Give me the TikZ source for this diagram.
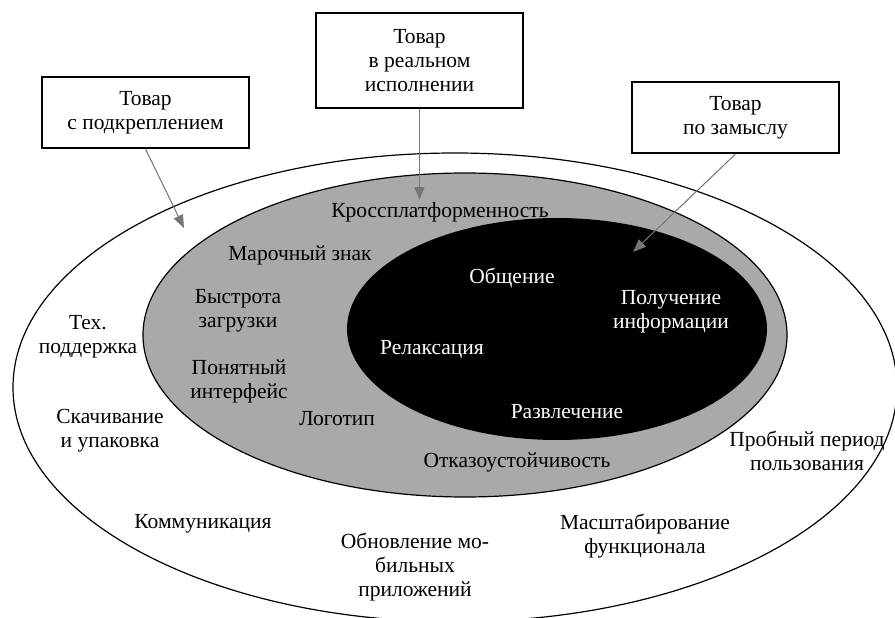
\documentclass[tikz,border=0pt]{standalone}
\usepackage{fontspec}
\setmainfont{Liberation Serif}
\usetikzlibrary{arrows.meta}
\definecolor{ringgray}{RGB}{171,168,167}
\definecolor{arrowgray}{RGB}{118,118,118}
\begin{document}
\begin{tikzpicture}[x=1pt,y=-1pt,
  lbl/.style={inner sep=0pt, align=center, yshift=-2pt, font=\fontsize{21.5}{24}\selectfont},
  wlbl/.style={lbl, text=white},
  box/.style={draw=black, line width=2pt, fill=white, minimum width=207pt, inner sep=0pt, align=center, font=\fontsize{21.5}{24}\selectfont},
  pointer/.style={draw=arrowgray, line width=1pt, -{Triangle[length=13pt,width=10pt]}, fill=arrowgray}]
\clip (0,0) rectangle (895,618);
\fill[white] (0,0) rectangle (895,618);
% ellipses
\draw[line width=1.2pt, fill=white] (455,387.4) ellipse [x radius=442pt, y radius=234.4pt];
\draw[line width=1.2pt, fill=ringgray] (465,335) ellipse [x radius=322pt, y radius=162pt];
\fill[black] (557,329) ellipse [x radius=210pt, y radius=111pt];
% inner (black) labels
\node[wlbl] (obsh) at (512,276) {Общение};
\node[wlbl] (info) at (671,310) {Получение\\информации};
\node[wlbl] (rel) at (432,348) {Релаксация};
\node[wlbl] (razv) at (567,410) {Развлечение};
% gray ring labels
\node[lbl] (kross) at (440,210) {Кроссплатформенность};
\node[lbl] (marka) at (300,253) {Марочный знак};
\node[lbl] (bystr) at (238,309) {Быстрота\\загрузки};
\node[lbl] (ponyat) at (239,379) {Понятный\\интерфейс};
\node[lbl] (logo) at (337,417) {Логотип};
\node[lbl] (otkaz) at (517,460) {Отказоустойчивость};
% outer labels
\node[lbl] (teh) at (88,335) {Тех.\\поддержка};
\node[lbl] (skach) at (110,429) {Скачивание\\и упаковка};
\node[lbl] (komm) at (203,522) {Коммуникация};
\node[lbl] (obnov) at (415,565) {Обновление мо-\\бильных\\приложений};
\node[lbl] (masht) at (645,534) {Масштабирование\\функционала};
\node[lbl] (prob) at (807,449) {Пробный период\\пользования};
% boxes
\node[box, minimum height=71pt] (b1) at (145.5,112.5) {\raisebox{-2pt}{\parbox{200pt}{\centering Товар\\с подкреплением}}};
\node[box, minimum height=95pt] (b2) at (419.5,60.5) {\raisebox{-2pt}{\parbox{200pt}{\centering Товар\\в реальном\\исполнении}}};
\node[box, minimum height=71pt] (b3) at (735.5,117.5) {\raisebox{-2pt}{\parbox{200pt}{\centering Товар\\по замыслу}}};
% arrow tips
\coordinate (t1) at (184,228);
\coordinate (t2) at (419.5,200);
\coordinate (t3) at (633,252);
\draw[pointer] (b1.south) -- (t1);
\draw[pointer] (b2.south) -- (t2);
\draw[pointer] (b3.south) -- (t3);
\end{tikzpicture}
\end{document}
